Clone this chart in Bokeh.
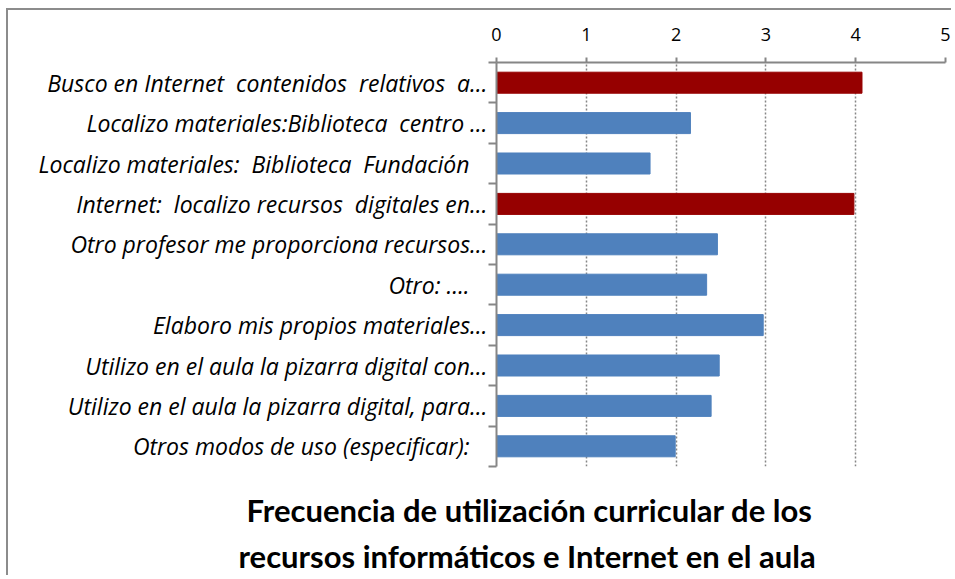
from bokeh.plotting import figure
from bokeh.models import Range1d, FixedTicker, Title, ColumnDataSource
from bokeh.embed import file_html
from bokeh.resources import INLINE

NB = "\u00a0"
categories = [
    "Busco en Internet " + NB + "contenidos " + NB + "relativos " + NB + "a…",
    "Localizo materiales:Biblioteca " + NB + "centro …",
    "Localizo materiales: " + NB + "Biblioteca " + NB + "Fundación" + NB * 3,
    "Internet: " + NB + "localizo recursos " + NB + "digitales en…",
    "Otro profesor me proporciona recursos…",
    "Otro: …." + NB * 3,
    "Elaboro mis propios materiales…",
    "Utilizo en el aula la pizarra digital con…",
    "Utilizo en el aula la pizarra digital, para…",
    "Otros modos de uso (especificar):" + NB * 3,
]
values = [4.07, 2.16, 1.71, 3.98, 2.46, 2.34, 2.97, 2.48, 2.39, 1.99]
x_ticks = [0, 1, 2, 3, 4, 5]
title_lines = ["Frecuencia de utilización curricular de los",
               "recursos informáticos e Internet en el aula"]

RED = "#960000"
BLUE = "#4f81bd"
GRAY = "#868686"
colors = [RED if v >= 3.5 else BLUE for v in values]

n = len(categories)
centers = [n - 0.5 - i for i in range(n)]
bounds = [float(i) for i in range(n + 1)]
src = ColumnDataSource(dict(y=centers, val=values, color=colors))

p = figure(width=945, height=567, output_backend="svg", toolbar_location=None,
           y_range=Range1d(0, n),
           x_range=Range1d(x_ticks[0], x_ticks[-1]),
           x_axis_location="above", y_axis_location="left",
           min_border_left=488, min_border_right=8, min_border_top=52,
           min_border_bottom=105, outline_line_color=None)
p.styles = {"border-top": "2px solid #8c8c8c", "border-left": "2px solid #8c8c8c",
            "margin-left": "6px", "margin-top": "8px"}

p.hbar(y="y", left=0, right="val", height=0.52, color="color", source=src)

xa = p.xaxis[0]
xa.ticker = FixedTicker(ticks=x_ticks)
xa.axis_line_color = GRAY
xa.axis_line_width = 2
xa.major_tick_line_color = GRAY
xa.major_tick_line_width = 2
xa.major_tick_out = 5
xa.major_tick_in = 0
xa.minor_tick_line_color = None
xa.major_label_standoff = 17
xa.major_label_text_font = "Open Sans"
xa.major_label_text_font_size = "18px"
xa.major_label_text_color = "#000000"

p.xgrid.ticker = FixedTicker(ticks=x_ticks)
p.xgrid.grid_line_color = GRAY
p.xgrid.grid_line_dash = "2 2"
p.xgrid.grid_line_width = 1.5
p.ygrid.visible = False

ya = p.yaxis[0]
ya.ticker = FixedTicker(ticks=centers, minor_ticks=bounds)
ya.major_label_overrides = {c: t for c, t in zip(centers, categories)}
ya.axis_line_color = GRAY
ya.axis_line_width = 2
ya.major_tick_line_color = None
ya.major_tick_out = 0
ya.major_tick_in = 0
ya.minor_tick_line_color = GRAY
ya.minor_tick_line_width = 2
ya.minor_tick_out = 8
ya.minor_tick_in = 0
ya.major_label_standoff = 1
ya.major_label_text_font = "Open Sans"
ya.major_label_text_font_style = "italic"
ya.major_label_text_font_size = "23px"
ya.major_label_text_color = "#000000"

# spacer between the plot and the two-line caption
p.add_layout(Title(text=" ", text_font_size="10px", standoff=6), "below")
for txt, off in zip(title_lines, [-250, -258]):
    p.add_layout(Title(text=txt, align="left", offset=off, standoff=6,
                       text_font="Lato", text_font_style="bold",
                       text_font_size="31px", text_color="#000000"), "below")

open("out.html", "w").write(file_html(p, INLINE))
